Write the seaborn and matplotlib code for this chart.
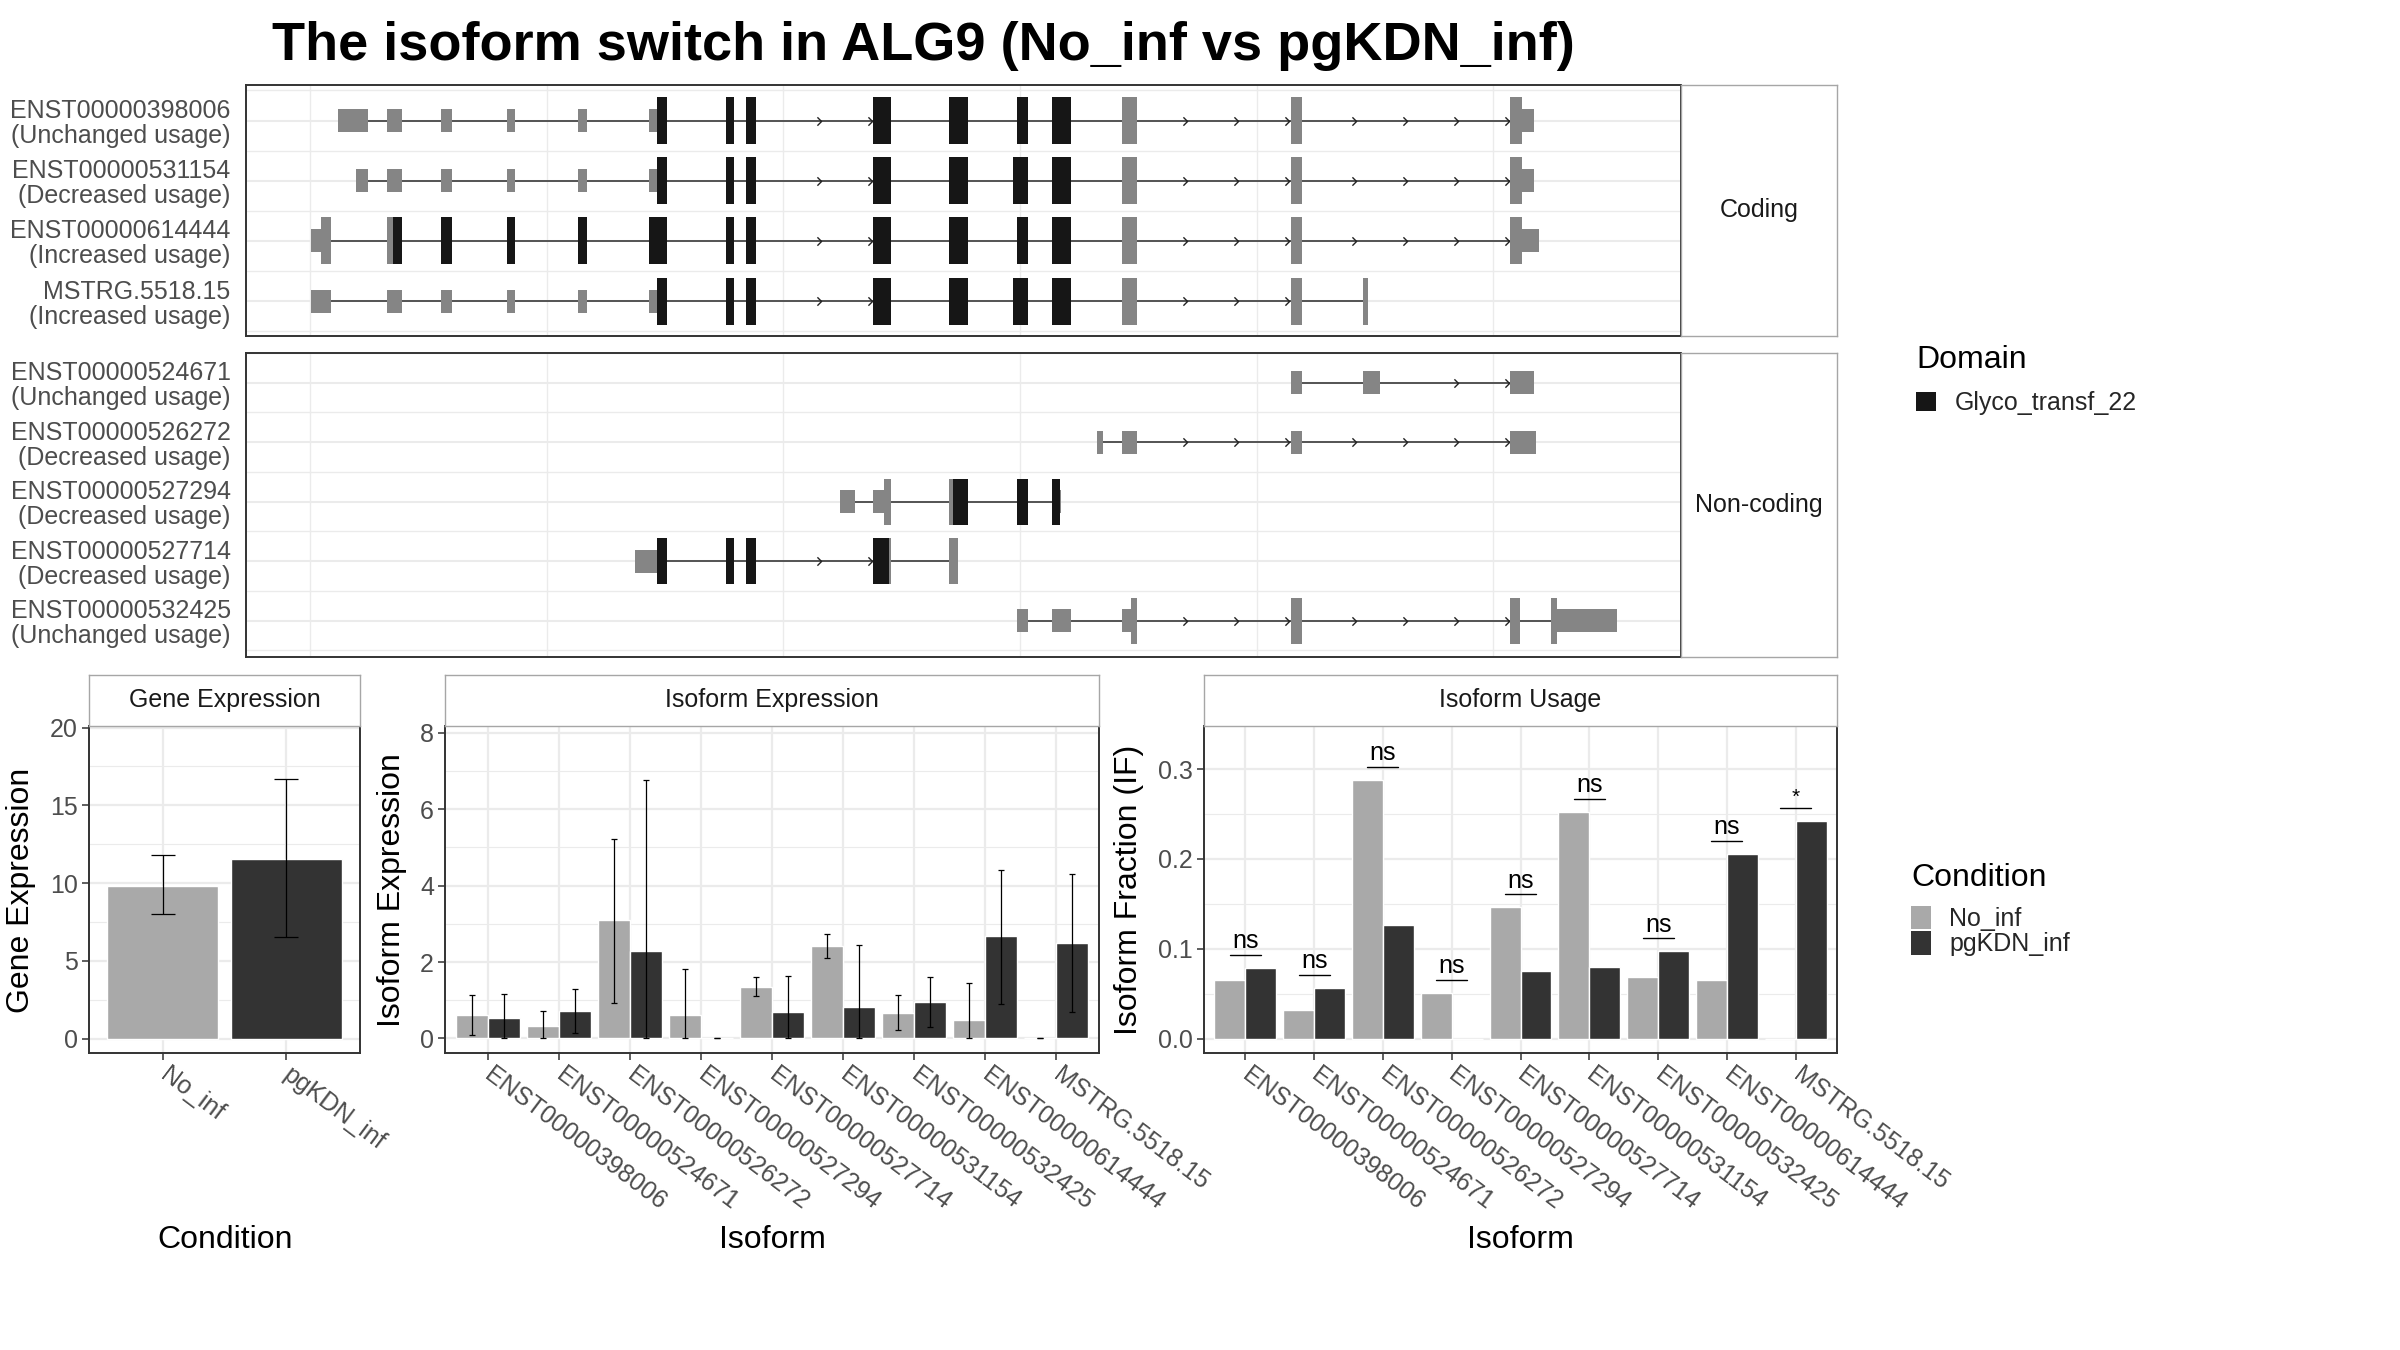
import numpy as np
import pandas as pd
import matplotlib
matplotlib.use("Agg")
import matplotlib.pyplot as plt
import seaborn as sns
from matplotlib.patches import Rectangle, Patch
from matplotlib.path import Path
from matplotlib.ticker import MultipleLocator, FormatStrFormatter

sns.set_theme(style="white")
plt.rcParams['font.family'] = ['Liberation Sans', 'DejaVu Sans']

# ------------------------------------------------------------------ data
title = "The isoform switch in ALG9 (No_inf vs pgKDN_inf)"
conditions = ["No_inf", "pgKDN_inf"]
cond_colors = ["#a9a9a9", "#333333"]

gene_expr = [9.8, 11.55]
gene_lo = [8.0, 6.5]
gene_hi = [11.8, 16.7]

isoforms = ["ENST00000398006", "ENST00000524671", "ENST00000526272",
            "ENST00000527294", "ENST00000527714", "ENST00000531154",
            "ENST00000532425", "ENST00000614444", "MSTRG.5518.15"]
iso_expr_no = [0.61, 0.32, 3.09, 0.61, 1.35, 2.43, 0.67, 0.48, 0.0]
iso_lo_no = [0.10, 0.0, 0.94, 0.0, 1.11, 2.11, 0.21, 0.0, 0.0]
iso_hi_no = [1.13, 0.73, 5.23, 1.82, 1.61, 2.74, 1.15, 1.46, 0.0]
iso_expr_pg = [0.54, 0.72, 2.28, 0.0, 0.69, 0.82, 0.96, 2.67, 2.51]
iso_lo_pg = [0.0, 0.15, 0.0, 0.0, 0.0, 0.0, 0.31, 0.91, 0.69]
iso_hi_pg = [1.16, 1.29, 6.77, 0.0, 1.64, 2.45, 1.60, 4.40, 4.31]

usage_no = [0.065, 0.032, 0.288, 0.051, 0.146, 0.252, 0.069, 0.065, 0.0]
usage_pg = [0.079, 0.056, 0.126, 0.0, 0.075, 0.080, 0.097, 0.206, 0.242]
usage_sig = ["ns", "ns", "ns", "ns", "ns", "ns", "ns", "ns", "*"]

coding_ids = ["ENST00000398006", "ENST00000531154", "ENST00000614444", "MSTRG.5518.15"]
coding_usage = ["Unchanged", "Decreased", "Increased", "Increased"]
noncoding_ids = ["ENST00000524671", "ENST00000526272", "ENST00000527294",
                 "ENST00000527714", "ENST00000532425"]
noncoding_usage = ["Unchanged", "Decreased", "Decreased", "Decreased", "Unchanged"]

# exon segments in rescaled transcript coordinates: (start, end, kind)
tx_398006 = [(530, 577, "utr"), (607, 630, "utr"), (691, 709, "utr"), (795, 808, "utr"),
             (906, 920, "utr"), (1018, 1030, "utr"), (1030, 1046, "dom"), (1138, 1151, "dom"),
             (1170, 1185, "dom"), (1369, 1397, "dom"), (1488, 1518, "dom"), (1594, 1612, "dom"),
             (1649, 1679, "dom"), (1759, 1783, "cds"), (2023, 2041, "cds"), (2367, 2386, "cds"),
             (2386, 2404, "utr")]
tx_531154 = [(558, 577, "utr"), (607, 630, "utr"), (691, 709, "utr"), (795, 808, "utr"),
             (906, 920, "utr"), (1018, 1030, "utr"), (1030, 1046, "dom"), (1138, 1151, "dom"),
             (1170, 1185, "dom"), (1369, 1397, "dom"), (1488, 1518, "dom"), (1588, 1612, "dom"),
             (1649, 1679, "dom"), (1759, 1783, "cds"), (2023, 2041, "cds"), (2367, 2386, "cds"),
             (2386, 2404, "utr")]
tx_614444 = [(488, 503, "utr"), (503, 519, "cds"), (607, 616, "cds"), (616, 630, "dom"),
             (691, 709, "dom"), (795, 808, "dom"), (906, 920, "dom"), (1018, 1046, "dom"),
             (1138, 1151, "dom"), (1170, 1185, "dom"), (1369, 1397, "dom"), (1488, 1518, "dom"),
             (1594, 1612, "dom"), (1649, 1679, "dom"), (1759, 1783, "cds"), (2023, 2041, "cds"),
             (2367, 2386, "cds"), (2386, 2413, "utr")]
tx_mstrg = [(488, 519, "utr"), (607, 630, "utr"), (691, 709, "utr"), (795, 808, "utr"),
            (906, 920, "utr"), (1018, 1030, "utr"), (1030, 1046, "dom"), (1138, 1151, "dom"),
            (1170, 1185, "dom"), (1369, 1397, "dom"), (1488, 1518, "dom"), (1588, 1612, "dom"),
            (1649, 1679, "dom"), (1759, 1783, "cds"), (2023, 2041, "cds"), (2137, 2145, "cds")]
tx_524671 = [(2023, 2041, "utr"), (2137, 2164, "utr"), (2367, 2404, "utr")]
tx_526272 = [(1720, 1729, "utr"), (1759, 1783, "utr"), (2023, 2041, "utr"), (2367, 2407, "utr")]
tx_527294 = [(1317, 1341, "utr"), (1369, 1386, "utr"), (1386, 1397, "cds"), (1488, 1494, "cds"),
             (1494, 1518, "dom"), (1594, 1612, "dom"), (1649, 1661, "dom"), (1661, 1664, "utr")]
tx_527714 = [(996, 1030, "utr"), (1030, 1046, "dom"), (1138, 1151, "dom"), (1170, 1185, "dom"),
             (1369, 1393, "dom"), (1393, 1397, "cds"), (1488, 1502, "cds")]
tx_532425 = [(1594, 1612, "utr"), (1649, 1679, "utr"), (1759, 1773, "utr"), (1773, 1783, "cds"),
             (2023, 2041, "cds"), (2367, 2383, "cds"), (2432, 2441, "cds"), (2441, 2534, "utr")]

tx_structs = {
    "ENST00000398006": tx_398006, "ENST00000531154": tx_531154,
    "ENST00000614444": tx_614444, "MSTRG.5518.15": tx_mstrg,
    "ENST00000524671": tx_524671, "ENST00000526272": tx_526272,
    "ENST00000527294": tx_527294, "ENST00000527714": tx_527714,
    "ENST00000532425": tx_532425,
}
domain_name = "Glyco_transf_22"

# ------------------------------------------------------------------ style
W, H, DPI = 2400, 1350, 100
GRID = "#ebebeb"
BORDER = "#333333"
TICKTXT = "#4d4d4d"
EXON_GRAY = "#858585"
DOMAIN_COL = "#161616"
FULL_H, UTR_H = 0.78, 0.38
TX_XLIM = (386, 2635)
TX_GRID_START, TX_GRID_STEP = 486, 371
XLAB_ROT = -37

fig = plt.figure(figsize=(W / DPI, H / DPI), dpi=DPI)
fig.patch.set_facecolor("white")


def frac_rect(x0, y0, x1, y1):
    return [x0 / W, 1 - y1 / H, (x1 - x0) / W, (y1 - y0) / H]


def style_panel(ax):
    ax.set_facecolor("white")
    for s in ax.spines.values():
        s.set_visible(True)
        s.set_color(BORDER)
        s.set_linewidth(1.4)


def add_strip(rect, text):
    sax = fig.add_axes(rect)
    sax.set_xticks([])
    sax.set_yticks([])
    sax.set_facecolor("white")
    for s in sax.spines.values():
        s.set_visible(True)
        s.set_color("#a6a6a6")
        s.set_linewidth(1.0)
    sax.text(0.5, 0.5, text, ha="center", va="center", fontsize=18,
             color="#1a1a1a", transform=sax.transAxes)
    return sax


chevron = Path([(-0.5, 1.0), (0.5, 0.0), (-0.5, -1.0)],
               [Path.MOVETO, Path.LINETO, Path.LINETO])


def draw_transcripts(ax, ids, usage, ylim):
    n = len(ids)
    ax.set_xlim(*TX_XLIM)
    ax.set_ylim(*ylim)
    for i, tid in enumerate(ids):
        y = i + 1
        segs = tx_structs[tid]
        ax.plot([segs[0][0], segs[-1][1]], [y, y], color="#3a3a3a", lw=1.2,
                zorder=2, solid_capstyle="butt")
        xs = []
        for a, b in zip(segs[:-1], segs[1:]):
            gs, ge = a[1], b[0]
            if ge - gs > 150:
                p = ge - 5
                while p > gs + 40:
                    xs.append(p)
                    p -= 80
        if xs:
            ax.plot(xs, [y] * len(xs), ls="none", marker=chevron, ms=6,
                    mfc="none", mec="#222222", mew=1.0, zorder=3)
        for s, e, k in segs:
            h = UTR_H if k == "utr" else FULL_H
            col = DOMAIN_COL if k == "dom" else EXON_GRAY
            ax.add_patch(Rectangle((s, y - h / 2), e - s, h, facecolor=col,
                                   edgecolor="none", zorder=4))
    ax.set_xticks(np.arange(TX_GRID_START, TX_XLIM[1], TX_GRID_STEP))
    ax.set_yticks(np.arange(1, n + 1))
    ax.set_yticks(np.arange(0.5, n + 1, 1), minor=True)
    ax.set_yticklabels([f"{t}\n({u} usage)" for t, u in zip(ids, usage)],
                       fontsize=18, color=TICKTXT, linespacing=1.05)
    ax.tick_params(axis="x", which="both", length=0, labelbottom=False)
    ax.tick_params(axis="y", which="both", length=0, pad=11)
    ax.set_axisbelow(True)
    ax.grid(axis="x", which="major", color=GRID, lw=1.0)
    ax.grid(axis="y", which="major", color=GRID, lw=1.5)
    ax.grid(axis="y", which="minor", color=GRID, lw=1.0)
    style_panel(ax)


# transcript panels
ax_cod = fig.add_axes(frac_rect(246, 85, 1681, 336))
draw_transcripts(ax_cod, coding_ids, coding_usage, (4.58, 0.41))
add_strip(frac_rect(1681, 85, 1837, 336), "Coding")

ax_nc = fig.add_axes(frac_rect(246, 353, 1681, 657))
draw_transcripts(ax_nc, noncoding_ids, noncoding_usage, (5.61, 0.57))
add_strip(frac_rect(1681, 353, 1837, 657), "Non-coding")


# ------------------------------------------------------------------ bottom
def style_cat_axis(ax, n, ylim, major, minor):
    ax.set_xlim(-0.6, n - 0.4)
    ax.set_ylim(*ylim)
    ax.yaxis.set_major_locator(MultipleLocator(major))
    ax.yaxis.set_minor_locator(MultipleLocator(minor))
    ax.set_axisbelow(True)
    ax.grid(which="major", color=GRID, lw=1.6)
    ax.grid(which="minor", axis="y", color=GRID, lw=0.8)
    ax.tick_params(which="major", direction="out", length=5, width=1.1,
                   color=BORDER, labelsize=18, labelcolor=TICKTXT,
                   left=True, bottom=True, pad=3)
    ax.tick_params(axis="x", which="major", pad=9)
    ax.tick_params(which="minor", length=0)
    ax.set_xlabel("")
    ax.set_ylabel("")
    style_panel(ax)
    for lbl in ax.get_xticklabels():
        lbl.set_rotation(XLAB_ROT)
        lbl.set_ha("left")
        lbl.set_va("center")
        lbl.set_rotation_mode("anchor")


def bar_centers(ax):
    out = {}
    for p in ax.patches:
        cx = p.get_x() + p.get_width() / 2
        idx = int(round(cx))
        hue = 0 if cx < idx - 1e-6 else 1
        out[(idx, hue)] = cx
    return out


# gene expression
ax_g = fig.add_axes(frac_rect(89, 726, 360, 1053))
gdf = pd.DataFrame({"Condition": conditions, "value": gene_expr})
sns.barplot(data=gdf, x="Condition", y="value", hue="Condition", order=conditions,
            hue_order=conditions, palette=cond_colors, saturation=1, width=0.9,
            errorbar=None, legend=False, ax=ax_g)
for p, v, lo, hi in zip(ax_g.patches, gene_expr, gene_lo, gene_hi):
    cx = p.get_x() + p.get_width() / 2
    ax_g.errorbar(cx, v, yerr=[[v - lo], [hi - v]], fmt="none", ecolor="black",
                  elinewidth=0.9, capsize=8.5, capthick=0.9, zorder=5)
style_cat_axis(ax_g, 2, (-0.93, 20.1), 5, 2.5)
add_strip(frac_rect(89, 675, 360, 726), "Gene Expression")

# isoform expression
edf = pd.DataFrame({
    "Isoform": isoforms * 2,
    "Condition": [conditions[0]] * len(isoforms) + [conditions[1]] * len(isoforms),
    "value": iso_expr_no + iso_expr_pg,
})
ax_e = fig.add_axes(frac_rect(445, 726, 1099, 1053))
sns.barplot(data=edf, x="Isoform", y="value", hue="Condition", order=isoforms,
            hue_order=conditions, palette=cond_colors, saturation=1, width=0.9,
            errorbar=None, legend=False, ax=ax_e)
centers = bar_centers(ax_e)
for hue, (vals, los, his) in enumerate([(iso_expr_no, iso_lo_no, iso_hi_no),
                                        (iso_expr_pg, iso_lo_pg, iso_hi_pg)]):
    for i, (v, lo, hi) in enumerate(zip(vals, los, his)):
        cx = centers[(i, hue)]
        ax_e.errorbar(cx, v, yerr=[[v - lo], [hi - v]], fmt="none", ecolor="black",
                      elinewidth=0.9, capsize=2.3, capthick=0.9, zorder=5)
style_cat_axis(ax_e, len(isoforms), (-0.38, 8.18), 2, 1)
add_strip(frac_rect(445, 675, 1099, 726), "Isoform Expression")

# isoform usage
udf = pd.DataFrame({
    "Isoform": isoforms * 2,
    "Condition": [conditions[0]] * len(isoforms) + [conditions[1]] * len(isoforms),
    "value": usage_no + usage_pg,
})
ax_u = fig.add_axes(frac_rect(1204, 726, 1837, 1053))
sns.barplot(data=udf, x="Isoform", y="value", hue="Condition", order=isoforms,
            hue_order=conditions, palette=cond_colors, saturation=1, width=0.9,
            errorbar=None, legend=False, ax=ax_u)
centers_u = bar_centers(ax_u)
for i, (a, b, sig) in enumerate(zip(usage_no, usage_pg, usage_sig)):
    ytop = max(a, b) + 0.0145
    x0, x1 = centers_u[(i, 0)], centers_u[(i, 1)]
    ax_u.plot([x0, x1], [ytop, ytop], color="black", lw=1.0, zorder=5)
    ax_u.text((x0 + x1) / 2, ytop + 0.002, sig, ha="center", va="bottom",
              fontsize=18 if sig == "ns" else 15, color="black", zorder=5)
style_cat_axis(ax_u, len(isoforms), (-0.016, 0.348), 0.1, 0.05)
ax_u.yaxis.set_major_formatter(FormatStrFormatter("%.1f"))
add_strip(frac_rect(1204, 675, 1837, 726), "Isoform Usage")

# axis titles
fig.text(21 / W, 1 - 890 / H, "Gene Expression", rotation=90, ha="center",
         va="center", fontsize=23, color="black")
fig.text(392 / W, 1 - 890 / H, "Isoform Expression", rotation=90, ha="center",
         va="center", fontsize=23, color="black")
fig.text(1129 / W, 1 - 890 / H, "Isoform Fraction (IF)", rotation=90, ha="center",
         va="center", fontsize=23, color="black")
fig.text(225 / W, 1 - 1240 / H, "Condition", ha="center", va="center",
         fontsize=23, color="black")
fig.text(772 / W, 1 - 1240 / H, "Isoform", ha="center", va="center",
         fontsize=23, color="black")
fig.text(1520 / W, 1 - 1240 / H, "Isoform", ha="center", va="center",
         fontsize=23, color="black")

# title
fig.text(272 / W, 1 - 46 / H, title, ha="left", va="center", fontsize=39,
         fontweight="bold", color="black")

# legends (titles drawn as text, entries as legends)
fig.text(1916 / W, 1 - 360 / H, "Domain", ha="left", va="center", fontsize=23,
         color="black")
fig.legend(handles=[Patch(facecolor=DOMAIN_COL, edgecolor="none")],
           labels=[domain_name], loc="center left",
           bbox_to_anchor=(1916 / W, 1 - 403 / H), frameon=False,
           fontsize=18, handlelength=0.8, handleheight=0.8, handletextpad=0.75,
           borderpad=0, borderaxespad=0)
fig.text(1911 / W, 1 - 878 / H, "Condition", ha="left", va="center", fontsize=23,
         color="black")
fig.legend(handles=[Patch(facecolor=c, edgecolor="none") for c in cond_colors],
           labels=conditions, loc="upper left",
           bbox_to_anchor=(1911 / W, 1 - 906 / H), frameon=False,
           fontsize=18, handlelength=0.8, handleheight=1.06, handletextpad=0.72,
           labelspacing=0.0, borderpad=0, borderaxespad=0)

fig.savefig("out.png", dpi=DPI, facecolor="white")
